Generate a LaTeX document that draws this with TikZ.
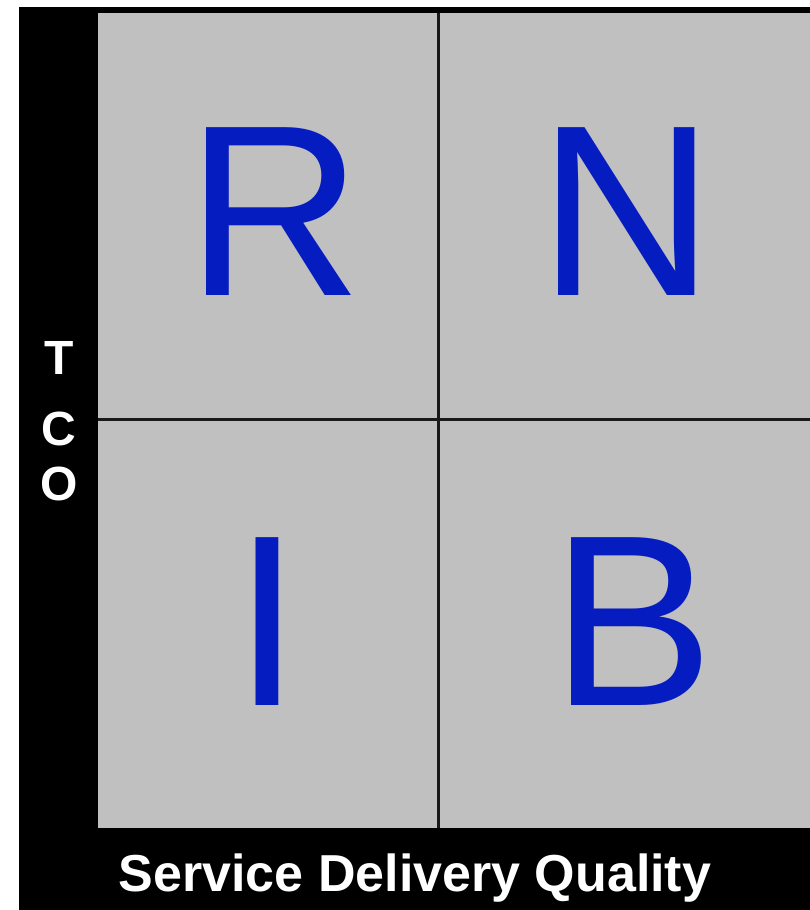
\documentclass[tikz,border=0pt]{standalone}
\usepackage{fontspec}
\setmainfont{Liberation Sans}
\usepackage{tikz}
\usetikzlibrary{positioning}
\definecolor{quadblue}{RGB}{5,28,192}
\definecolor{quadgray}{RGB}{192,192,192}
\tikzset{
  quadletter/.style={text=quadblue,inner sep=0pt,anchor=base,
    font=\fontsize{244}{244}\selectfont},
  axislabel/.style={text=white,inner sep=0pt,anchor=base,
    font=\fontsize{52}{52}\selectfont\bfseries},
  tcolabel/.style={text=white,inner sep=0pt,anchor=base,
    font=\fontsize{48}{48}\selectfont\bfseries}
}

\begin{document}
\begin{tikzpicture}[x=1pt,y=-1pt]
        \useasboundingbox (0,0) rectangle (810,910);

        % Schwarzer Rahmen
        \fill[black] (19,7) rectangle (810,910);

        % Graue Felder
        \fill[quadgray] (98,13) rectangle (810,828);

        % Trennlinien
        \draw[line width=2.5pt,black!90] (438.3,13) -- (438.3,828);
        \draw[line width=2.5pt,black!90] (98,419.3) -- (810,419.3);

        % Quadranten
        \node[quadletter] (r) at (275,295) {R};
        \node[quadletter] (n) at (627,295) {N};
        \node[quadletter] (i) at (267,705) {I};
        \node[quadletter] (b) at (633,705) {B};

        % Achsen
        \node[axislabel] (sdq) at (415,891) {Service Delivery Quality};
        \node[tcolabel] (t) at (59,374) {T};
        \node[tcolabel] (c) at (59,445) {C};
        \node[tcolabel] (o) at (59,500) {O};
      \end{tikzpicture}
\end{document}
